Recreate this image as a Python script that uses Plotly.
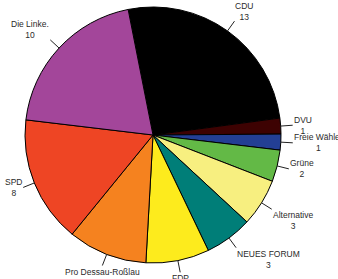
import math
import plotly.graph_objects as go

parties = ["CDU", "DVU", "Freie Wähler", "Grüne", "Alternative", "NEUES FORUM",
           "FDP", "Pro Dessau-Roßlau", "SPD", "Die Linke."]
seats = [13, 1, 1, 2, 3, 3, 4, 5, 8, 10]
colors = ["#000000", "#3d0202", "#233f94", "#63b946", "#f7ef80", "#007e78",
          "#fdeb1d", "#f5821f", "#ee4524", "#a3469a"]

W, H = 338, 279
L, T = 25, 7
PW = PH = 256
R, B = W - L - PW, H - T - PH
CX, CY = L + PW / 2, T + PH / 2
RAD = PW / 2
ROT = -11.2

fig = go.Figure(go.Pie(
    labels=parties, values=seats, sort=False, direction="clockwise",
    rotation=ROT, textinfo="none", hoverinfo="label+value",
    marker=dict(colors=colors, line=dict(color="#000000", width=1)),
    domain=dict(x=[0, 1], y=[0, 1]), showlegend=False,
))

def px2paper(x, y):
    return (x - L) / PW, 1 - (y - T) / PH

total = sum(seats)
cum = 0
annotations, shapes = [], []
for name, v in zip(parties, seats):
    mid = ROT + (cum + v / 2) / total * 360
    cum += v
    a = math.radians(mid)
    s, c = math.sin(a), math.cos(a)
    x0, y0 = CX + RAD * s, CY - RAD * c
    x1, y1 = CX + (RAD + 12) * s, CY - (RAD + 12) * c
    p0 = px2paper(x0, y0)
    p1 = px2paper(x1, y1)
    shapes.append(dict(type="line", xref="paper", yref="paper",
                       x0=p0[0], y0=p0[1], x1=p1[0], y1=p1[1],
                       line=dict(color="#222222", width=1)))
    xa = "left" if s > 0.4 else ("right" if s < -0.4 else "center")
    ya = "bottom" if c > 0.4 else ("top" if c < -0.4 else "middle")
    annotations.append(dict(x=p1[0], y=p1[1] - (0.006 if ya == "bottom" else 0),
                            xref="paper", yref="paper",
                            text=f"{name}<br>{v}", showarrow=False,
                            xanchor=xa, yanchor=ya, align="center",
                            borderpad=0,
                            font=dict(family="Liberation Sans, Arial, sans-serif",
                                      size=8.5, color="#2a2a2a")))

fig.update_layout(width=W, height=H, margin=dict(l=L, r=R, t=T, b=B),
                  paper_bgcolor="white", plot_bgcolor="white",
                  annotations=annotations, shapes=shapes)
fig.write_html("out.html", config={"displayModeBar": False},
               post_script="document.body.style.margin='0';"
                           "document.body.style.overflow='hidden';")
